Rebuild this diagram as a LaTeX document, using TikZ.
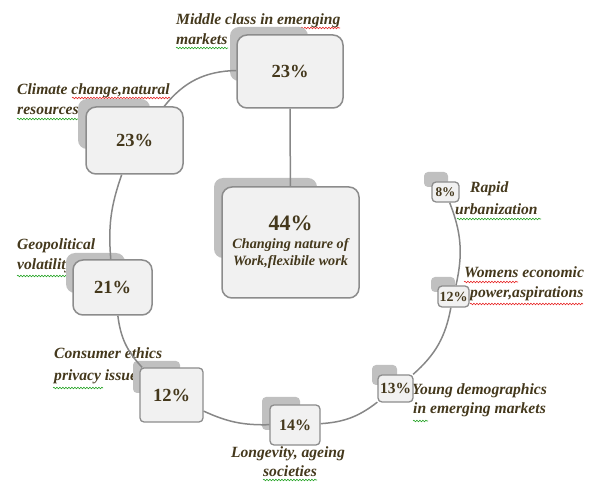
\documentclass[tikz,border=0pt]{standalone}
\usepackage{fontspec}
\setmainfont{Liberation Serif}
\usetikzlibrary{decorations.pathmorphing}

\definecolor{ink}{RGB}{68,56,28}
\definecolor{boxfill}{RGB}{241,241,241}
\definecolor{boxline}{RGB}{140,140,140}
\definecolor{shade}{RGB}{192,192,192}
\definecolor{linkgray}{RGB}{135,135,135}
\definecolor{spellred}{RGB}{232,40,40}
\definecolor{spellgreen}{RGB}{40,165,40}

\tikzset{
  lab/.style={anchor=base west, inner sep=0pt, text=ink,
    font=\fontsize{15.6}{20}\selectfont\bfseries\itshape},
  labc/.style={lab, anchor=base},
  bigbox/.style={draw=boxline, line width=1.5pt, fill=boxfill,
    rounded corners=10pt, inner sep=0pt, text=ink, font=\bfseries},
  smallbox/.style={draw=boxline, line width=1.3pt, fill=boxfill,
    rounded corners=4pt, inner sep=0pt, text=ink, font=\bfseries},
  bigshade/.style={fill=shade, rounded corners=9pt, inner sep=0pt},
  smallshade/.style={fill=shade, rounded corners=4pt, inner sep=0pt},
  link/.style={draw=linkgray, line width=1.5pt},
  squig/.style={line width=0.6pt, decorate,
    decoration={snake, amplitude=0.8pt, segment length=3pt}},
}

\begin{document}
\begin{tikzpicture}[x=1pt,y=1pt]
\useasboundingbox (0,0) rectangle (595,-486);

% ---- captions -------------------------------------------------------
\node[lab] (t1a) at (176,-25) {Middle class in emenging};
\node[lab] (t1b) at (176,-45) {markets};
\node[lab] (t2a) at (17,-95) {Climate change,natural};
\node[lab] (t2b) at (17,-115) {resources};
\node[lab] (t3a) at (17,-250) {Geopolitical};
\node[lab] (t3b) at (17,-270) {volatility};
\node[lab] (t4a) at (54,-359) {Consumer ethics};
\node[lab] (t4b) at (54,-381) {privacy issues};
\node[labc] (t5a) at (288,-457) {Longevity, ageing};
\node[labc] (t5b) at (290,-477) {societies};
\node[lab] (t6a) at (412,-395) {Young demographics};
\node[lab] (t6b) at (413,-414) {in emerging markets};
\node[lab] (t7a) at (464,-278) {Womens economic};
\node[lab] (t7b) at (470,-298) {power,aspirations};
\node[lab] (t8a) at (470,-193) {Rapid};
\node[lab] (t8b) at (455,-215) {urbanization};

% ---- spelling marks under the captions --------------------------------
\draw[squig, spellred]   (277,-28)  -- (340,-28);
\draw[squig, spellgreen] (176,-48)  -- (228,-48);
\draw[squig, spellred]   (72,-98)   -- (170,-98);
\draw[squig, spellgreen] (17,-119)  -- (78,-119);
\draw[squig, spellgreen] (17,-276)  -- (73,-276);
\draw[squig, spellgreen] (53,-388)  -- (103,-388);
\draw[squig, spellgreen] (263,-480) -- (317,-480);
\draw[squig, spellgreen] (457,-219) -- (541,-219);
\draw[squig, spellred]   (464,-282) -- (518,-282);
\draw[squig, spellred]   (470,-304) -- (583,-304);
\draw[squig, spellgreen] (413,-421) -- (428,-421);
\draw[squig, spellred]   (233,-267) -- (316,-267);

% ---- shadows behind the boxes -----------------------------------------
\node[bigshade, minimum width=78pt, minimum height=54pt] (s1) at (269,-54) {};
\node[bigshade, minimum width=72pt, minimum height=50pt] (s2) at (114,-124) {};
\node[bigshade, minimum width=103pt, minimum height=80pt] (s0) at (265.5,-218) {};
\node[bigshade, minimum width=59pt, minimum height=40pt] (s3) at (95.5,-273) {};
\node[smallshade, minimum width=47pt, minimum height=32pt] (s4) at (156.5,-377) {};
\node[smallshade, minimum width=38pt, minimum height=33pt] (s5) at (281,-413.5) {};
\node[smallshade, minimum width=25pt, minimum height=20pt] (s6) at (384.5,-375) {};
\node[smallshade, minimum width=24pt, minimum height=15pt] (s7) at (443,-284.5) {};
\node[smallshade, minimum width=24pt, minimum height=15pt] (s8) at (436,-179.5) {};

% ---- boxes -----------------------------------------------------------
\node[bigbox, minimum width=106pt, minimum height=73pt,
      font=\fontsize{18.5}{20}\selectfont\bfseries] (top23) at (290,-71.5) {23\%};
\node[bigbox, minimum width=97pt, minimum height=67pt,
      font=\fontsize{18.5}{20}\selectfont\bfseries] (left23) at (134.5,-140.5) {23\%};
\node[bigbox, minimum width=137pt, minimum height=111pt, align=center,
      font=\fontsize{14.2}{17}\selectfont\bfseries\itshape]
      (work44) at (290.5,-242.5)
      {{\fontsize{22}{24}\selectfont\upshape 44\%}\\[1pt]
       Changing nature of\\
       Work,flexibile work};
\node[bigbox, minimum width=79pt, minimum height=55pt,
      font=\fontsize{18.5}{20}\selectfont\bfseries] (geo21) at (112.5,-287.5) {21\%};
\node[smallbox, minimum width=63pt, minimum height=54pt,
      font=\fontsize{18.5}{20}\selectfont\bfseries] (cons12) at (171.5,-395) {12\%};
\node[smallbox, minimum width=50pt, minimum height=40pt,
      font=\fontsize{16}{18}\selectfont\bfseries] (long14) at (295,-425) {14\%};
\node[smallbox, minimum width=35pt, minimum height=27pt,
      font=\fontsize{15.5}{17}\selectfont\bfseries] (young13) at (395.5,-388.5) {13\%};
\node[smallbox, minimum width=31pt, minimum height=21pt,
      font=\fontsize{14}{16}\selectfont\bfseries] (women12) at (453.5,-296.5) {12\%};
\node[smallbox, minimum width=27pt, minimum height=20pt,
      font=\fontsize{13.3}{15}\selectfont\bfseries] (rapid8) at (445.5,-192) {8\%};

% ---- connectors ----------------------------------------------------------
\draw[link] (top23) -- (work44);
\draw[link] (top23)   to[bend right=25] (left23);
\draw[link] (left23)  to[bend right=12] (geo21);
\draw[link] (geo21)   to[bend right=18] (cons12);
\draw[link] (cons12)  to[bend right=13] (long14);
\draw[link] (long14)  to[bend right=17] (young13);
\draw[link] (young13) to[bend right=19] (women12);
\draw[link] (women12) to[bend right=17] (rapid8);
\end{tikzpicture}
\end{document}
